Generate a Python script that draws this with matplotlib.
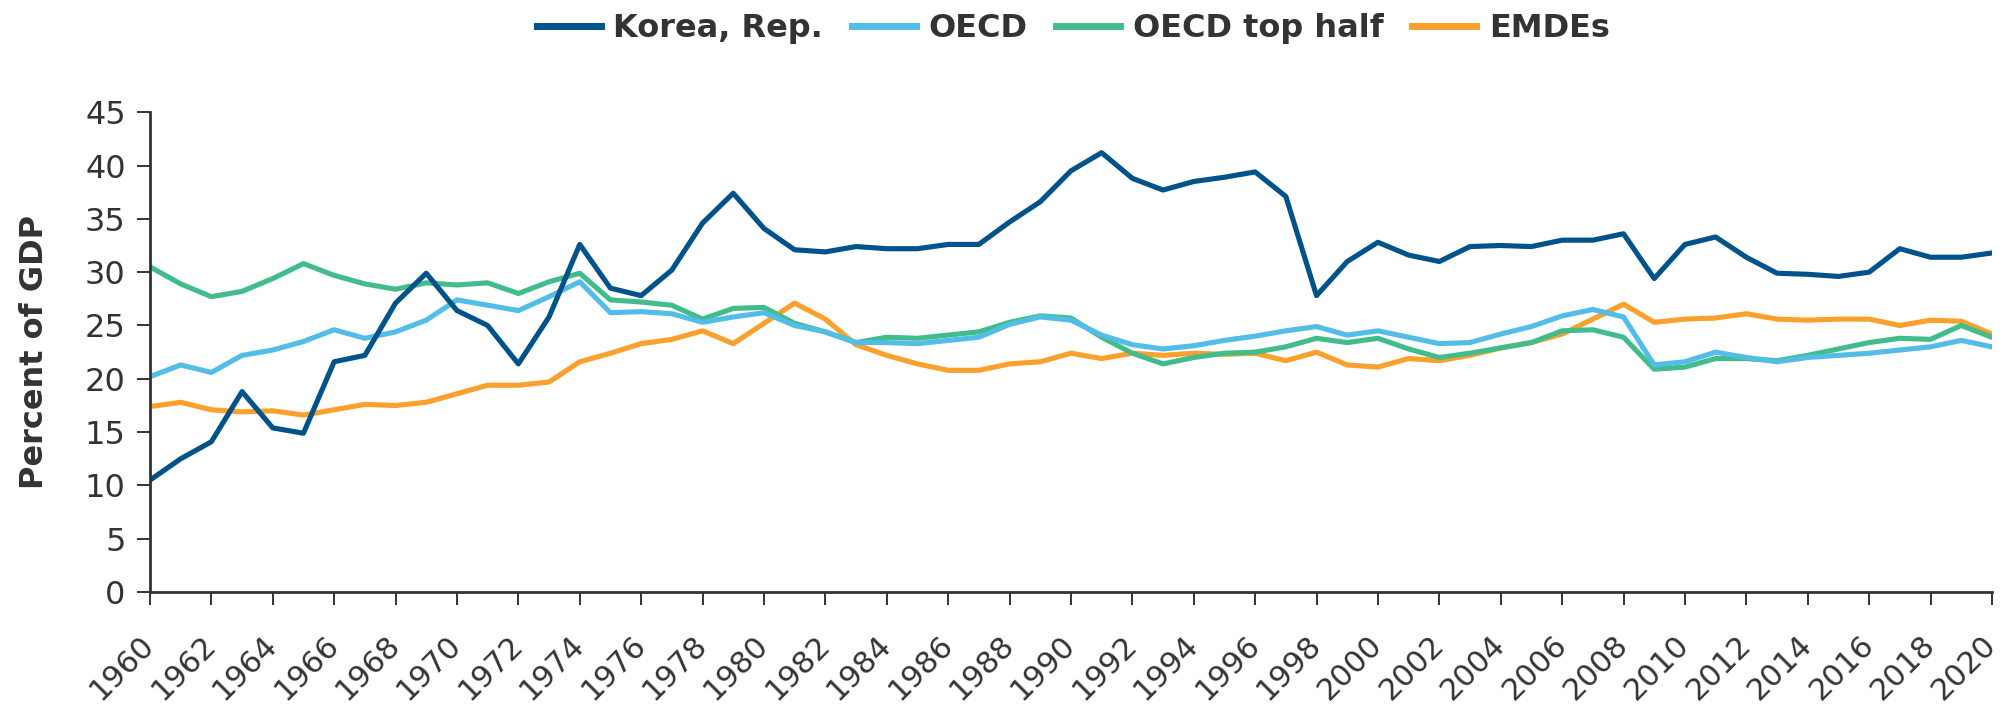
import numpy as np
import matplotlib
matplotlib.use("Agg")
import matplotlib.pyplot as plt
import matplotlib as mpl

mpl.rcParams['font.family'] = ['DejaVu Sans']
mpl.rcParams['xtick.major.size'] = 9.5
mpl.rcParams['ytick.major.size'] = 9.5
mpl.rcParams['xtick.major.width'] = 1.4
mpl.rcParams['ytick.major.width'] = 1.4

years = list(range(1960, 2021))

korea = [10.5, 12.5, 14.1, 18.8, 15.4, 14.9, 21.6, 22.2, 27.1, 29.9,
         26.4, 25.0, 21.4, 25.8, 32.6, 28.5, 27.8, 30.2, 34.6, 37.4,
         34.1, 32.1, 31.9, 32.4, 32.2, 32.2, 32.6, 32.6, 34.7, 36.6,
         39.5, 41.2, 38.8, 37.7, 38.5, 38.9, 39.4, 37.1, 27.8, 31.0,
         32.8, 31.6, 31.0, 32.4, 32.5, 32.4, 33.0, 33.0, 33.6, 29.4,
         32.6, 33.3, 31.4, 29.9, 29.8, 29.6, 30.0, 32.2, 31.4, 31.4,
         31.8]

oecd = [20.2, 21.3, 20.6, 22.2, 22.7, 23.5, 24.6, 23.8, 24.4, 25.5,
        27.4, 26.9, 26.4, 27.7, 29.1, 26.2, 26.3, 26.1, 25.3, 25.8,
        26.2, 25.0, 24.4, 23.4, 23.4, 23.3, 23.6, 23.9, 25.1, 25.8,
        25.5, 24.1, 23.2, 22.8, 23.1, 23.6, 24.0, 24.5, 24.9, 24.1,
        24.5, 23.9, 23.3, 23.4, 24.2, 24.9, 25.9, 26.5, 25.8, 21.3,
        21.6, 22.5, 22.0, 21.6, 22.0, 22.2, 22.4, 22.7, 23.0, 23.6,
        23.0]

oecd_top = [30.5, 28.9, 27.7, 28.2, 29.4, 30.8, 29.7, 28.9, 28.4, 29.0,
            28.8, 29.0, 28.0, 29.1, 29.9, 27.4, 27.2, 26.9, 25.6, 26.6,
            26.7, 25.2, 24.4, 23.4, 23.9, 23.8, 24.1, 24.4, 25.3, 25.9,
            25.7, 23.9, 22.4, 21.4, 22.0, 22.4, 22.5, 23.0, 23.8, 23.4,
            23.8, 22.8, 22.0, 22.4, 22.9, 23.4, 24.5, 24.6, 23.9, 20.9,
            21.1, 21.9, 21.9, 21.7, 22.2, 22.8, 23.4, 23.8, 23.7, 25.0,
            23.9]

emdes = [17.4, 17.8, 17.1, 16.9, 17.0, 16.6, 17.1, 17.6, 17.5, 17.8,
         18.6, 19.4, 19.4, 19.7, 21.6, 22.4, 23.3, 23.7, 24.5, 23.3,
         25.2, 27.1, 25.6, 23.2, 22.2, 21.4, 20.8, 20.8, 21.4, 21.6,
         22.4, 21.9, 22.4, 22.2, 22.4, 22.3, 22.4, 21.7, 22.5, 21.3,
         21.1, 21.9, 21.7, 22.2, 22.9, 23.4, 24.2, 25.6, 27.0, 25.3,
         25.6, 25.7, 26.1, 25.6, 25.5, 25.6, 25.6, 25.0, 25.5, 25.4,
         24.2]

names = ["Korea, Rep.", "OECD", "OECD top half", "EMDEs"]
colors = ["#00528A", "#52BDE6", "#43BC8B", "#F9A12C"]
series = [korea, oecd, oecd_top, emdes]

fig = plt.figure(figsize=(20.1, 7.1), dpi=100)
ax = fig.add_axes([0.0746, 0.166, 0.9164, 0.676])

# draw back to front so Korea sits on top
for i in [3, 2, 1, 0]:
    ax.plot(years, series[i], color=colors[i], lw=3.7, label=names[i])

ax.set_xlim(1960, 2020)
ax.set_ylim(0, 45)
ax.set_yticks(np.arange(0, 46, 5))
ax.set_xticks(years[::2])
ax.set_xticklabels([str(y) for y in years[::2]], rotation=45, ha='right', va='center',
                   rotation_mode='anchor', fontsize=22, color='#333333')
ax.tick_params(axis='y', labelsize=23, labelcolor='#333333', color='#333333', pad=8)
ax.tick_params(axis='x', color='#333333', pad=25)

for s in ['top', 'right']:
    ax.spines[s].set_visible(False)
for s in ['left', 'bottom']:
    ax.spines[s].set_linewidth(2)
    ax.spines[s].set_color('#333333')

ax.set_ylabel("Percent of GDP", fontsize=23, fontweight='bold', color='#333333')
ax.yaxis.set_label_coords(-0.054, 0.5)

handles, labels = ax.get_legend_handles_labels()
order = [3, 2, 1, 0]
leg = fig.legend([handles[k] for k in order], [labels[k] for k in order],
                 loc='center', bbox_to_anchor=(0.534, 0.96), ncol=4, frameon=False,
                 prop={'weight': 'bold', 'size': 23}, handlelength=2.0,
                 columnspacing=0.9, handletextpad=0.4)
for line in leg.get_lines():
    line.set_linewidth(5)
for t in leg.get_texts():
    t.set_color('#333333')

plt.savefig("out.png", dpi=100)
